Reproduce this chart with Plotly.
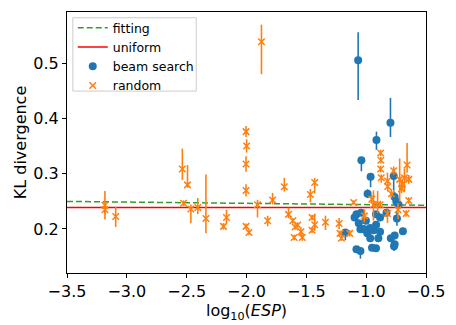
import plotly.graph_objects as go

# random (orange)
rand_x = [-3.183, -3.183, -3.093, -2.536, -2.493, -2.526, -2.465, -2.407, -2.339, -2.167,
          -2.192, -2.004, -1.999, -2.004, -2.004, -2.004, -1.979, -1.875, -1.908, -1.823,
          -1.782, -1.684, -1.649, -1.613, -1.594, -1.572, -1.602, -1.545, -1.534, -1.466,
          -1.430, -1.452, -1.452, -1.430, -1.340, -1.226, -1.218, -1.207, -1.138, -1.105,
          -1.015, -0.953, -0.939, -0.904, -0.884, -0.879, -0.877, -0.879, -0.874, -0.822,
          -0.820, -0.789, -0.770, -0.720, -0.699, -0.705, -0.680, -0.644, -0.658, -0.644,
          -0.734, -0.666, -0.822]
rand_y = [0.243, 0.235, 0.2225, 0.309, 0.280, 0.2468, 0.2364, 0.239, 0.219, 0.2208,
          0.2047, 0.3768, 0.3508, 0.3179, 0.270, 0.2047, 0.1936, 0.540, 0.244, 0.215,
          0.2525, 0.2768, 0.2265, 0.215, 0.2035, 0.207, 0.1844, 0.195, 0.1844, 0.2624,
          0.2844, 0.2208, 0.1977, 0.2075, 0.2121, 0.210, 0.192, 0.183, 0.192, 0.248,
          0.2237, 0.254, 0.244, 0.245, 0.2438, 0.338, 0.3248, 0.309, 0.293, 0.2872,
          0.277, 0.264, 0.3057, 0.290, 0.2815, 0.273, 0.293, 0.290, 0.316, 0.2515,
          0.235, 0.228, 0.228]
rand_ep = [0.026, 0.008, 0.018, 0.037, 0.036, 0.005, 0.008, 0.017, 0.080, 0.014,
           0.006, 0.010, 0.012, 0.014, 0.011, 0.005, 0.005, 0.031, 0.009, 0.009,
           0.013, 0.016, 0.012, 0.005, 0.005, 0.005, 0.005, 0.008, 0.006, 0.010,
           0.008, 0.005, 0.005, 0.020, 0.012, 0.010, 0.005, 0.005, 0.006, 0.004,
           0.012, 0.008, 0.026, 0.024, 0.005, 0.006, 0.006, 0.006, 0.006, 0.015,
           0.006, 0.008, 0.008, 0.038, 0.008, 0.008, 0.017, 0.008, 0.040, 0.006,
           0.012, 0.006, 0.010]
rand_em = [0.026, 0.008, 0.019, 0.020, 0.005, 0.005, 0.026, 0.012, 0.027, 0.011,
           0.006, 0.010, 0.012, 0.014, 0.011, 0.005, 0.005, 0.059, 0.023, 0.010,
           0.008, 0.009, 0.007, 0.005, 0.005, 0.005, 0.005, 0.008, 0.006, 0.014,
           0.020, 0.005, 0.005, 0.011, 0.014, 0.010, 0.005, 0.005, 0.006, 0.004,
           0.012, 0.008, 0.029, 0.016, 0.005, 0.006, 0.006, 0.006, 0.009, 0.008,
           0.009, 0.008, 0.008, 0.040, 0.008, 0.008, 0.026, 0.008, 0.014, 0.006,
           0.017, 0.006, 0.017]

# beam search (blue)
beam_x = [-1.067, -0.797, -0.914, -1.040, -0.963, -0.988, -0.770, -0.762, -0.748, -1.081,
          -1.097, -1.062, -1.048, -1.174, -1.002, -0.966, -0.991, -0.939, -0.917, -0.884,
          -0.898, -0.951, -0.918, -1.081, -1.048, -0.794, -0.767, -0.762, -0.693, -0.830,
          -0.743, -0.729, -0.884, -0.918, -1.043, -1.019, -0.966, -0.762]
beam_y = [0.5063, 0.393, 0.3617, 0.3248, 0.2948, 0.264, 0.296, 0.258, 0.2497, 0.2265,
          0.2208, 0.2104, 0.1995, 0.1936, 0.215, 0.2017, 0.192, 0.1977, 0.2075, 0.1948,
          0.1832, 0.1659, 0.1648, 0.163, 0.160, 0.183, 0.1688, 0.188, 0.196, 0.2295,
          0.219, 0.244, 0.2208, 0.2265, 0.2295, 0.200, 0.183, 0.172]
beam_ep = [0.051, 0.045, 0.015, 0.005, 0.005, 0.008, 0.006, 0.009, 0.006, 0.006,
           0.006, 0.006, 0.006, 0.006, 0.006, 0.006, 0.006, 0.006, 0.006, 0.006,
           0.006, 0.006, 0.006, 0.006, 0.006, 0.006, 0.009, 0.006, 0.006, 0.006,
           0.012, 0.006, 0.006, 0.006, 0.006, 0.006, 0.006, 0.006]
beam_em = [0.072, 0.026, 0.018, 0.020, 0.019, 0.008, 0.026, 0.010, 0.006, 0.006,
           0.006, 0.006, 0.006, 0.014, 0.006, 0.006, 0.006, 0.006, 0.006, 0.006,
           0.006, 0.006, 0.006, 0.006, 0.014, 0.006, 0.009, 0.006, 0.006, 0.006,
           0.013, 0.006, 0.006, 0.006, 0.006, 0.006, 0.006, 0.006]

fit_x = [-3.5, -0.5]
fit_y = [0.250, 0.243]
uniform_x = [-3.5, -0.5]
uniform_y = [0.239, 0.239]

xtick_vals = [-3.5, -3.0, -2.5, -2.0, -1.5, -1.0, -0.5]
xtick_text = ["\u22123.5", "\u22123.0", "\u22122.5", "\u22122.0", "\u22121.5", "\u22121.0", "\u22120.5"]
ytick_vals = [0.2, 0.3, 0.4, 0.5]
ytick_text = ["0.2", "0.3", "0.4", "0.5"]

BLUE = "#1f77b4"
ORANGE = "#ff7f0e"

fig = go.Figure()
fig.add_trace(go.Scatter(x=fit_x, y=fit_y, mode="lines", name="fitting",
                         line=dict(color="#2ca02c", width=1.5, dash="6px,3px")))
fig.add_trace(go.Scatter(x=uniform_x, y=uniform_y, mode="lines", name="uniform",
                         line=dict(color="#ff0000", width=1.5)))
fig.add_trace(go.Scatter(x=beam_x, y=beam_y, mode="markers", name="beam search",
                         marker=dict(color=BLUE, size=8, symbol="circle"),
                         error_y=dict(type="data", array=beam_ep, arrayminus=beam_em,
                                      color=BLUE, thickness=1.6, width=0)))
fig.add_trace(go.Scatter(x=rand_x, y=rand_y, mode="markers", name="random",
                         marker=dict(color=ORANGE, size=6.5, symbol="x-thin",
                                     line=dict(color=ORANGE, width=1.5)),
                         error_y=dict(type="data", array=rand_ep, arrayminus=rand_em,
                                      color=ORANGE, thickness=1.6, width=0)))

axis_common = dict(showline=True, linecolor="black", linewidth=1, mirror=True,
                   ticks="outside", ticklen=4, tickcolor="black", showgrid=False,
                   zeroline=False, tickfont=dict(size=16, color="black"))
fig.update_xaxes(range=[-3.5, -0.5], tickvals=xtick_vals, ticktext=xtick_text,
                 title=dict(text="log<sub>10</sub>(<i>ESP</i>)", font=dict(size=16, color="black"),
                            standoff=2), **axis_common)
fig.update_yaxes(range=[0.12, 0.594], tickvals=ytick_vals, ticktext=ytick_text,
                 title=dict(text="KL divergence", font=dict(size=16, color="black"),
                            standoff=2), **axis_common)

# legend frame drawn to match the reference's box
fig.add_shape(type="rect", xref="paper", yref="paper",
              x0=0.0163, x1=0.360, y0=0.697, y1=0.978,
              line=dict(color="#cccccc", width=1), fillcolor="rgba(255,255,255,0.85)",
              layer="above")

fig.update_layout(
    width=456, height=325,
    margin=dict(l=67, r=22, t=11, b=43),
    paper_bgcolor="white", plot_bgcolor="white",
    font=dict(family="DejaVu Sans", color="black"),
    showlegend=True,
    legend=dict(x=0.016, y=0.996, xanchor="left", yanchor="top",
                bgcolor="rgba(0,0,0,0)", borderwidth=0,
                font=dict(size=12.5), itemwidth=30, tracegroupgap=0),
)

fig.write_html("out.html")
